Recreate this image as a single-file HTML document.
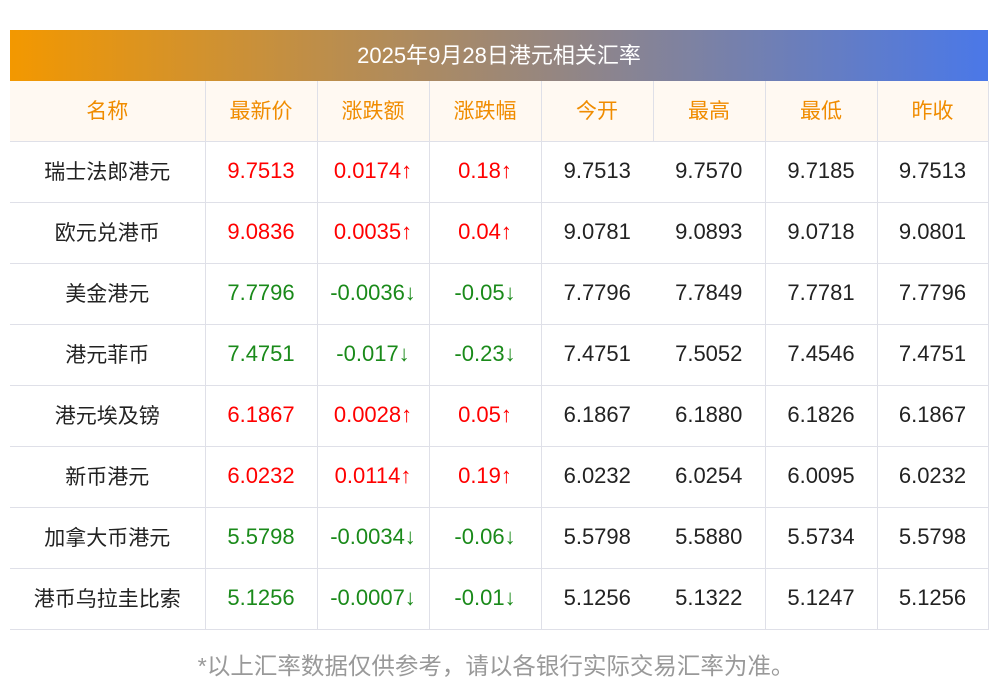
<!DOCTYPE html><html><head><meta charset="utf-8"><style>
body{margin:0;background:#fff;font-family:"Liberation Sans","Noto Sans CJK SC",sans-serif;}
.wrap{position:absolute;left:10px;top:30px;width:978px;}
.title{height:51px;line-height:51px;text-align:center;color:#fff;font-size:22px;background:linear-gradient(90deg,#f39800,#4a78e8);}
table{border-collapse:collapse;width:978px;table-layout:fixed;}
td{height:58px;padding:0 0 2px 0;text-align:center;font-size:22px;color:#222;border-bottom:1px solid #dfe0e8;}
td.n{font-size:21px;}
tr.h td{background:#fff9f2;color:#f08c00;font-size:21px;}
td.l{border-left:1px solid #dfe0e8;}
td.r{border-right:1px solid #dfe0e8;}
.u{color:#f00}.d{color:#1a8a1a}
.foot{position:absolute;left:0;width:992px;top:647px;text-align:center;color:#999;font-size:23.5px;}
</style></head><body>
<div class="wrap"><div class="title">2025年9月28日港元相关汇率</div>
<table>
<col style="width:195px"><col style="width:112px"><col style="width:112px"><col style="width:112px"><col style="width:112px"><col style="width:112px"><col style="width:112px"><col style="width:111px">
<tr class="h"><td>名称</td><td class="l">最新价</td><td class="l">涨跌额</td><td class="l">涨跌幅</td><td class="l">今开</td><td class="l">最高</td><td class="l">最低</td><td class="l r">昨收</td></tr>
<tr><td class="n">瑞士法郎港元</td><td class="l u">9.7513</td><td class="l u">0.0174↑</td><td class="l u">0.18↑</td><td class="l">9.7513</td><td>9.7570</td><td class="l">9.7185</td><td class="l r">9.7513</td></tr>
<tr><td class="n">欧元兑港币</td><td class="l u">9.0836</td><td class="l u">0.0035↑</td><td class="l u">0.04↑</td><td class="l">9.0781</td><td>9.0893</td><td class="l">9.0718</td><td class="l r">9.0801</td></tr>
<tr><td class="n">美金港元</td><td class="l d">7.7796</td><td class="l d">-0.0036↓</td><td class="l d">-0.05↓</td><td class="l">7.7796</td><td>7.7849</td><td class="l">7.7781</td><td class="l r">7.7796</td></tr>
<tr><td class="n">港元菲币</td><td class="l d">7.4751</td><td class="l d">-0.017↓</td><td class="l d">-0.23↓</td><td class="l">7.4751</td><td>7.5052</td><td class="l">7.4546</td><td class="l r">7.4751</td></tr>
<tr><td class="n">港元埃及镑</td><td class="l u">6.1867</td><td class="l u">0.0028↑</td><td class="l u">0.05↑</td><td class="l">6.1867</td><td>6.1880</td><td class="l">6.1826</td><td class="l r">6.1867</td></tr>
<tr><td class="n">新币港元</td><td class="l u">6.0232</td><td class="l u">0.0114↑</td><td class="l u">0.19↑</td><td class="l">6.0232</td><td>6.0254</td><td class="l">6.0095</td><td class="l r">6.0232</td></tr>
<tr><td class="n">加拿大币港元</td><td class="l d">5.5798</td><td class="l d">-0.0034↓</td><td class="l d">-0.06↓</td><td class="l">5.5798</td><td>5.5880</td><td class="l">5.5734</td><td class="l r">5.5798</td></tr>
<tr><td class="n">港币乌拉圭比索</td><td class="l d">5.1256</td><td class="l d">-0.0007↓</td><td class="l d">-0.01↓</td><td class="l">5.1256</td><td>5.1322</td><td class="l">5.1247</td><td class="l r">5.1256</td></tr>
</table></div>
<div class="foot">*以上汇率数据仅供参考，请以各银行实际交易汇率为准。</div>
</body></html>
